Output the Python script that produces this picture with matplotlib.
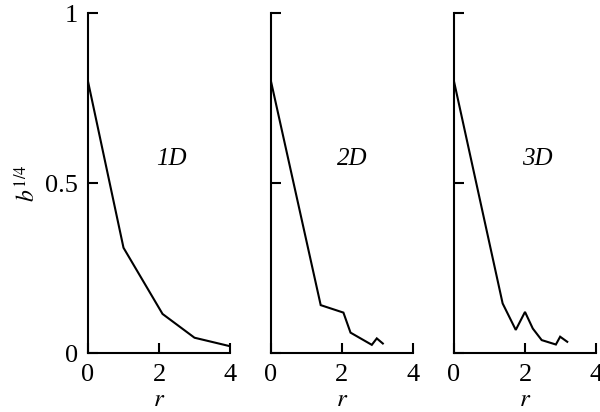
import matplotlib
matplotlib.use("Agg")
import matplotlib.pyplot as plt

plt.rcParams['font.family'] = ['Liberation Serif', 'DejaVu Serif']
plt.rcParams['mathtext.fontset'] = 'stix'

r_1d = [0, 1.0, 2.1, 3.0, 4.0]
b_1d = [0.80, 0.31, 0.115, 0.045, 0.02]

r_2d = [0, 1.40, 2.04, 2.24, 2.84, 2.98, 3.15]
b_2d = [0.80, 0.141, 0.119, 0.060, 0.024, 0.043, 0.028]

r_3d = [0, 1.37, 1.74, 2.0, 2.22, 2.47, 2.87, 2.99, 3.19]
b_3d = [0.80, 0.146, 0.068, 0.121, 0.072, 0.038, 0.025, 0.048, 0.033]

panels = [("1D", r_1d, b_1d, 2.36), ("2D", r_2d, b_2d, 2.30), ("3D", r_3d, b_3d, 2.35)]
xticks = [0, 2, 4]
yticks = [0, 0.5, 1]
ytick_labels = ["0", "0.5", "1"]

fig = plt.figure(figsize=(6.0, 4.12), dpi=100)
lefts = [88/600, 271/600, 454/600]
bottom = 1 - 353/412
height = (353 - 13.5)/412
width = 142/600

for i, (name, rr, bb, lx) in enumerate(panels):
    ax = fig.add_axes([lefts[i], bottom, width, height])
    ax.plot(rr, bb, color='black', lw=1.5, solid_joinstyle='miter')
    ax.set_xlim(0, 4)
    ax.set_ylim(0, 1)
    for s in ['top', 'right']:
        ax.spines[s].set_visible(False)
    for s in ['left', 'bottom']:
        ax.spines[s].set_linewidth(1.5)
    ax.set_xticks(xticks)
    ax.set_xticklabels([str(t) for t in xticks], fontsize=19)
    ax.set_yticks(yticks)
    ax.tick_params(axis='x', direction='in', length=7, width=1.5, pad=8)
    ax.tick_params(axis='y', direction='in', length=7, width=1.5, pad=7)
    if i == 0:
        ax.set_yticklabels(ytick_labels, fontsize=19)
        ax.set_ylabel(r'$b^{\mathrm{1/4}}$', fontsize=17, labelpad=4)
    else:
        ax.set_yticklabels([])
    ax.set_xlabel(r'$r$', fontsize=18, labelpad=2)
    ax.text(lx, 0.57, name, fontsize=18, style='italic', ha='center', va='center')
    ax.patch.set_visible(False)

fig.savefig('out.png', dpi=100)
